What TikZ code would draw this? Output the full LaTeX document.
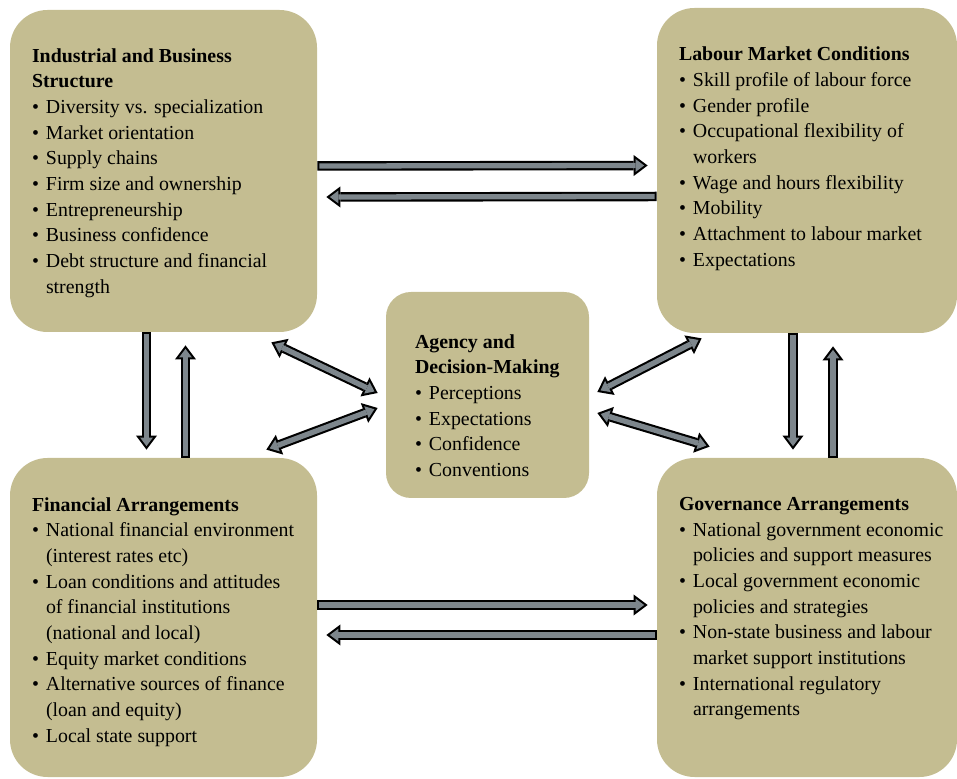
\documentclass[tikz,border=0pt]{standalone}
\usepackage{fontspec}
\setmainfont{Liberation Serif}
\usetikzlibrary{arrows.meta}

\definecolor{boxtan}{RGB}{196,189,145}
\definecolor{arrowgray}{RGB}{125,134,140}

\newcommand{\itm}{\makebox[0.28cm][l]{\textbullet}}
\newcommand{\cnt}{\hspace*{0.28cm}}

\tikzset{
  box/.style={fill=boxtan, rounded corners=0.75cm, inner sep=0pt},
  txt/.style={anchor=north west, align=left, inner sep=0pt, font=\fontsize{11.3}{14.6}\selectfont},
  outerhead/.tip={Triangle[length=8pt,width=12pt,line width=0pt]},
  innerhead/.tip={Triangle[length=4.8pt,width=7.2pt,line width=0pt]},
  fat/.style={line width=5.4pt, -outerhead,
    postaction={draw=arrowgray, line width=3pt, -innerhead, shorten >=2pt, shorten <=1.2pt}},
  fatboth/.style={line width=5.4pt, outerhead-outerhead,
    postaction={draw=arrowgray, line width=3pt, innerhead-innerhead, shorten >=2pt, shorten <=2pt}}
}

\begin{document}
\begin{tikzpicture}

\useasboundingbox (0,0) rectangle (19.14,15.56);

% boxes
\node[box, minimum width=6.14cm, minimum height=6.44cm] (ind) at (3.27,12.14) {};
\node[box, minimum width=6.0cm, minimum height=6.5cm] (lab) at (16.14,12.15) {};
\node[box, rounded corners=0.5cm, minimum width=4.06cm, minimum height=4.12cm] (agency) at (9.75,7.66) {};
\node[box, minimum width=6.14cm, minimum height=6.38cm] (fin) at (3.27,3.21) {};
\node[box, minimum width=6.0cm, minimum height=6.38cm] (gov) at (16.14,3.21) {};

% texts
\node[txt] (indtxt) at ([xshift=0.44cm, yshift=-0.77cm]ind.north west) {%
  \textbf{Industrial and Business}\\
  \textbf{Structure}\\
  \itm Diversity vs. specialization\\
  \itm Market orientation\\
  \itm Supply chains\\
  \itm Firm size and ownership\\
  \itm Entrepreneurship\\
  \itm Business confidence\\
  \itm Debt structure and financial\\
  \cnt strength};

\node[txt] (labtxt) at ([xshift=0.44cm, yshift=-0.78cm]lab.north west) {%
  \textbf{Labour Market Conditions}\\
  \itm Skill profile of labour force\\
  \itm Gender profile\\
  \itm Occupational flexibility of\\
  \cnt workers\\
  \itm Wage and hours flexibility\\
  \itm Mobility\\
  \itm Attachment to labour market\\
  \itm Expectations};

\node[txt] (agencytxt) at ([xshift=0.58cm, yshift=-0.85cm]agency.north west) {%
  \textbf{Agency and}\\
  \textbf{Decision-Making}\\
  \itm Perceptions\\
  \itm Expectations\\
  \itm Confidence\\
  \itm Conventions};

\node[txt] (fintxt) at ([xshift=0.44cm, yshift=-0.79cm]fin.north west) {%
  \textbf{Financial Arrangements}\\
  \itm National financial environment\\
  \cnt (interest rates etc)\\
  \itm Loan conditions and attitudes\\
  \cnt of financial institutions\\
  \cnt (national and local)\\
  \itm Equity market conditions\\
  \itm Alternative sources of finance\\
  \cnt (loan and equity)\\
  \itm Local state support};

\node[txt] (govtxt) at ([xshift=0.44cm, yshift=-0.79cm]gov.north west) {%
  \textbf{Governance Arrangements}\\
  \itm National government economic\\
  \cnt policies and support measures\\
  \itm Local government economic\\
  \cnt policies and strategies\\
  \itm Non-state business and labour\\
  \cnt market support institutions\\
  \itm International regulatory\\
  \cnt arrangements};

% horizontal arrows
\draw[fat] ([yshift=0.1cm]ind.east) -- ([yshift=0.1cm, xshift=-0.18cm]lab.west);
\draw[fat] ([yshift=-0.52cm]lab.west) -- ([yshift=-0.52cm, xshift=0.18cm]ind.east);
\draw[fat] ([yshift=0.25cm]fin.east) -- ([yshift=0.25cm, xshift=-0.18cm]gov.west);
\draw[fat] ([yshift=-0.35cm]gov.west) -- ([yshift=-0.35cm, xshift=0.18cm]fin.east);

% vertical arrows
\draw[fat] ([xshift=-0.34cm]ind.south) -- ([xshift=-0.34cm, yshift=0.16cm]fin.north);
\draw[fat] ([xshift=0.44cm]fin.north) -- ([xshift=0.44cm, yshift=-0.26cm]ind.south);
\draw[fat] ([xshift=-0.28cm]lab.south) -- ([xshift=-0.28cm, yshift=0.16cm]gov.north);
\draw[fat] ([xshift=0.52cm]gov.north) -- ([xshift=0.52cm, yshift=-0.26cm]lab.south);

% arrows to and from agency
\draw[fatboth] ([shift={(-0.92,-0.2)}]ind.south east) -- ([shift={(-0.16,0.04)}]agency.west);
\draw[fatboth] ([shift={(-1.02,0.16)}]fin.north east) -- ([shift={(-0.16,-0.26)}]agency.west);
\draw[fatboth] ([shift={(0.9,-0.1)}]lab.south west) -- ([shift={(0.16,0.06)}]agency.east);
\draw[fatboth] ([shift={(0.16,-0.36)}]agency.east) -- ([shift={(1.06,0.22)}]gov.north west);

\end{tikzpicture}
\end{document}
